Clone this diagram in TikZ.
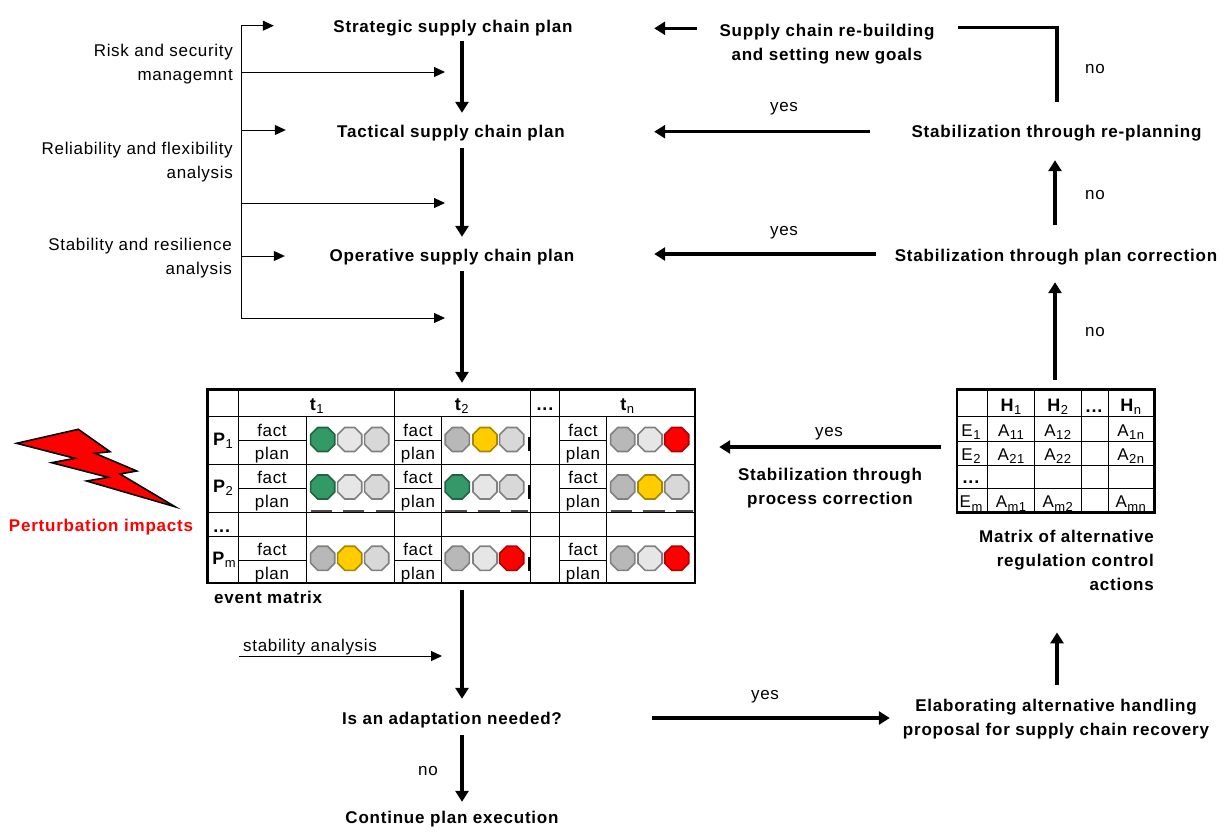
\documentclass[tikz,border=0pt]{standalone}
\usepackage{fontspec}
\setmainfont{Liberation Sans}[LetterSpace=4,BoldFeatures={LetterSpace=4.6}]
\usetikzlibrary{arrows.meta,shapes.geometric}
\definecolor{lg}{HTML}{E6E6E6}
\definecolor{mg}{HTML}{D8D8D8}
\definecolor{dg}{HTML}{B8B8B8}
\definecolor{gn}{HTML}{339966}
\definecolor{ye}{HTML}{FFCC00}
\definecolor{re}{HTML}{FF0000}
\tikzset{
  bold/.style={font=\fontsize{17}{24}\selectfont\bfseries,align=center,inner sep=1pt,minimum height=24pt},
  thin text/.style={font=\fontsize{17}{24}\selectfont,inner sep=1pt},
  cell/.style={font=\fontsize{17}{17}\selectfont,inner sep=0pt,anchor=base},
  cellb/.style={font=\fontsize{18}{18}\selectfont\bfseries,inner sep=0pt,anchor=base},
  thick arrow/.style={line width=3.4pt,-{Triangle[length=11pt,width=13pt]}},
  thick plain/.style={line width=3.4pt},
  thin arrow/.style={line width=1pt,-{Triangle[length=11pt,width=10pt]}},
  grid line/.style={line width=1pt},
  frame box/.style={draw,line width=2.4pt,inner sep=0pt},
  oct/.style={regular polygon,regular polygon sides=8,minimum size=26pt,inner sep=0pt,line width=1.6pt},
  ogn/.style={oct,fill=gn,draw=gn!65!black},
  oye/.style={oct,fill=ye,draw=ye!65!black},
  ore/.style={oct,fill=re,draw=re!70!black},
  olg/.style={oct,fill=lg,draw=black!50},
  omg/.style={oct,fill=mg,draw=black!50},
  odg/.style={oct,fill=dg,draw=black!50},
}
\newcommand{\subs}[1]{{\kern0.5pt\raisebox{-3.5pt}{\fontsize{13}{13}\mdseries\selectfont #1}}}
\begin{document}
\begin{tikzpicture}[x=1pt,y=-1pt]
\useasboundingbox (0,0) rectangle (1225,835);
% text nodes
\node[bold,minimum width=260pt] (strategic) at (453,28) {Strategic supply chain plan};
\node[bold,minimum width=250pt] (tactical) at (451,133) {Tactical supply chain plan};
\node[bold,minimum width=260pt] (operative) at (452,257) {Operative supply chain plan};
\node[bold,minimum width=240pt,minimum height=52pt] (rebuild) at (827,44) {Supply chain re-building\\and setting new goals};
\node[bold,minimum width=310pt] (replan) at (1056.5,133) {Stabilization through re-planning};
\node[bold,minimum width=340pt] (correction) at (1056,257) {Stabilization through plan correction};
\node[bold] (process) at (830,488) {Stabilization through\\process correction};
\node[bold,minimum width=240pt] (adapt) at (452,720) {Is an adaptation needed?};
\node[bold] (continue) at (452,819) {Continue plan execution};
\node[bold,minimum width=320pt,minimum height=52pt] (elaborate) at (1056,719) {Elaborating alternative handling\\proposal for supply chain recovery};
\node[bold,align=right,anchor=north east,minimum height=76pt] (matrixcap) at (1155,522) {Matrix of alternative\\regulation control\\actions};
\node[bold,anchor=west] (eventcap) at (213,597) {event matrix};
\node[bold,text=re] (perturb) at (101,527) {Perturbation impacts};
\node[thin text,align=right,anchor=east] (risk) at (234,64) {Risk and security\\managemnt};
\node[thin text,align=right,anchor=east] (reliab) at (234,162) {Reliability and flexibility\\analysis};
\node[thin text,align=right,anchor=east] (stab) at (233,258) {Stability and resilience\\analysis};
\node[thin text,anchor=west] (stabana) at (242,647) {stability analysis};
\node[thin text] (yes1) at (784,109) {yes};
\node[thin text] (yes2) at (784,233) {yes};
\node[thin text] (yes3) at (829,434) {yes};
\node[thin text] (yes4) at (765,697) {yes};
\node[thin text] (no1) at (1095,69) {no};
\node[thin text] (no2) at (1095,195) {no};
\node[thin text] (no3) at (1095,332) {no};
\node[thin text] (no4) at (428,771) {no};
% lightning
\filldraw[fill=re,draw=black,line width=1.6pt,line join=miter] (16.7,443.3)--(78.3,429.3)--(110,451.7)--(95,453.3)--(136.7,471)--(120,474)--(175,506.7)--(86.7,481)--(108.3,477.3)--(51.7,462.7)--(75,458.3)--cycle;
% event matrix grid
\draw[grid line] (238,389.5)--(238,583) (394,389.5)--(394,583) (530,389.5)--(530,583) (559,389.5)--(559,583);
\draw[grid line] (306,416.7)--(306,583) (441.5,416.7)--(441.5,583) (606,416.7)--(606,583);
\draw[grid line] (207.5,416.7)--(695,416.7) (207.5,464)--(695,464) (207.5,536.5)--(695,536.5);
\draw[grid line] (207.5,512)--(695,512);
\foreach \y in {440.7,488,560}{
 \draw[grid line] (238,\y)--(306,\y) (394,\y)--(441.5,\y) (559,\y)--(606,\y);
}
\foreach \xa/\xb in {311/331.7,343/364,376/394,445/467,478/500,511/528,611/632,643/665,676/693}{
 \draw[line width=1.2pt,black!70] (\xa,511)--(\xb,511);
}
\foreach \ya/\yb in {437/451,485/499,557/571}{ \draw[line width=1.6pt] (529,\ya)--(529,\yb); }
\node[frame box,minimum width=487.5pt,minimum height=193.5pt] (event) at (451.25,486.25) {};
% event matrix text
\node[cellb] (t1) at (316.7,410) {t\subs{1}};
\node[cellb] (t2) at (461.7,410) {t\subs{2}};
\node[cellb] (tdots) at (545,410.7) {...};
\node[cellb] (tn) at (627.3,410) {t\subs{n}};
\node[cellb] (p1) at (223,445) {P\subs{1}};
\node[cellb] (p2) at (223,492.3) {P\subs{2}};
\node[cellb] (pdots) at (221.7,532.7) {...};
\node[cellb] (pm) at (224,564.3) {P\subs{m}};
\foreach \x/\xn in {272/a,418/b,583/c}{
 \foreach \yf/\yp/\r in {436/459/1,483.3/507/2,555/579/3}{
  \node[cell] (fact\xn\r) at (\x,\yf) {fact};
  \node[cell] (plan\xn\r) at (\x,\yp) {plan};
 }
}
% lamps
\node[ogn] (l11) at (322.7,439.5) {}; \node[olg] (l12) at (349.7,439.5) {}; \node[omg] (l13) at (376.7,439.5) {};
\node[odg] (l14) at (457.3,439.5) {}; \node[oye] (l15) at (485,439.5) {}; \node[omg] (l16) at (511.7,439.5) {};
\node[odg] (l17) at (622.7,439.5) {}; \node[olg] (l18) at (650,439.5) {}; \node[ore] (l19) at (676.7,439.5) {};
\node[ogn] (l21) at (322.7,487) {}; \node[olg] (l22) at (349.7,487) {}; \node[omg] (l23) at (376.7,487) {};
\node[ogn] (l24) at (457.3,487) {}; \node[olg] (l25) at (485,487) {}; \node[omg] (l26) at (511.7,487) {};
\node[odg] (l27) at (622.7,487) {}; \node[oye] (l28) at (650,487) {}; \node[omg] (l29) at (676.7,487) {};
\node[odg] (l31) at (322.7,558.3) {}; \node[oye] (l32) at (349.7,558.3) {}; \node[omg] (l33) at (376.7,558.3) {};
\node[odg] (l34) at (457.3,558.3) {}; \node[olg] (l35) at (485,558.3) {}; \node[ore] (l36) at (511.7,558.3) {};
\node[odg] (l37) at (622.7,558.3) {}; \node[olg] (l38) at (650,558.3) {}; \node[ore] (l39) at (676.7,558.3) {};
% right matrix
\draw[grid line] (987.7,389.3)--(987.7,512.3) (1034.3,389.3)--(1034.3,512.3) (1081.7,389.3)--(1081.7,512.3) (1108.3,389.3)--(1108.3,512.3);
\draw[grid line] (956.7,416.7)--(1154.3,416.7) (956.7,441)--(1154.3,441) (956.7,465)--(1154.3,465) (956.7,488.3)--(1154.3,488.3);
\node[frame box,minimum width=197.6pt,minimum height=123pt] (actions) at (1055.5,450.8) {};
\node[cellb] (h1) at (1011,411) {H\subs{1}};
\node[cellb] (h2) at (1057.7,411) {H\subs{2}};
\node[cellb] (hdots) at (1094,412) {...};
\node[cellb] (hn) at (1130.7,411) {H\subs{n}};
\node[cell] (e1) at (971,436) {E\subs{1}};
\node[cell] (e2) at (971,460) {E\subs{2}};
\node[cellb] (edots) at (971,483) {...};
\node[cell] (em) at (971,507.7) {E\subs{m}};
\node[cell] (a11) at (1011,436) {A\subs{11}};
\node[cell] (a12) at (1057.7,436) {A\subs{12}};
\node[cell] (a1n) at (1130.7,436) {A\subs{1n}};
\node[cell] (a21) at (1011,460) {A\subs{21}};
\node[cell] (a22) at (1057.7,460) {A\subs{22}};
\node[cell] (a2n) at (1130.7,460) {A\subs{2n}};
\node[cell] (am1) at (1011,507.7) {A\subs{m1}};
\node[cell] (am2) at (1057.7,507.7) {A\subs{m2}};
\node[cell] (amn) at (1130.7,507.7) {A\subs{mn}};
% guide coordinates and free ends
\coordinate (gx462) at (462,0);
\coordinate (gx1055) at (1055,0);
\coordinate (gx1057) at (1057,0);
\coordinate (gy28) at (0,28.3);
\coordinate (gy131) at (0,131.7);
\coordinate (gy254) at (0,254);
\coordinate (gy447) at (0,447);
\coordinate (gy718) at (0,718);
\coordinate (bt) at (241,25.7);
\coordinate (bb) at (241,318);
\coordinate (s2) at (241,72); \coordinate (e2a) at (445,72);
\coordinate (s3) at (241,130);
\coordinate (s4) at (241,203); \coordinate (e4a) at (445,203);
\coordinate (s5) at (241,256);
\coordinate (e6a) at (445,318);
\coordinate (s7) at (239,656); \coordinate (e7a) at (442,656);
\coordinate (corner) at (1057,27.5);
% bracket and thin arrows
\draw[line width=1pt] (bt)--(bb);
\draw[thin arrow,shorten >=49pt] (bt)--(strategic.west |- bt);
\draw[thin arrow] (s2)--(e2a);
\draw[thin arrow,shorten >=40pt] (s3)--(tactical.west |- s3);
\draw[thin arrow] (s4)--(e4a);
\draw[thin arrow,shorten >=37pt] (s5)--(operative.west |- s5);
\draw[thin arrow] (bb)--(e6a);
\draw[thin arrow] (s7)--(e7a);
% thick connectors
\draw[thick arrow,shorten <=1pt,shorten >=8pt] (strategic.south -| gx462)--(tactical.north -| gx462);
\draw[thick arrow,shorten <=3pt,shorten >=8pt] (tactical.south -| gx462)--(operative.north -| gx462);
\draw[thick arrow,shorten <=2pt,shorten >=5.5pt] (operative.south -| gx462)--(event.north -| gx462);
\draw[thick arrow,shorten <=6pt,shorten >=9pt] (event.south -| gx462)--(adapt.north -| gx462);
\draw[thick arrow,shorten <=3pt,shorten >=5pt] (adapt.south -| gx462)--(continue.north -| gx462);
\draw[thick arrow,shorten <=10pt,shorten >=71pt] (rebuild.west |- gy28)--(strategic.east |- gy28);
\draw[thick plain,shorten <=19pt,shorten >=11pt] (replan.north -| gx1057)--(corner)--(rebuild.east |- corner);
\draw[thick arrow,shorten <=31.5pt,shorten >=78pt] (replan.west |- gy131)--(tactical.east |- gy131);
\draw[thick arrow,shorten <=10pt,shorten >=72pt] (correction.west |- gy254)--(operative.east |- gy254);
\draw[thick arrow,shorten <=20pt,shorten >=15pt] (correction.north -| gx1055)--(replan.south -| gx1055);
\draw[thick arrow,shorten <=8.3pt,shorten >=13pt] (actions.north -| gx1055)--(correction.south -| gx1055);
\draw[thick arrow,shorten <=8pt,shorten >=34pt] (elaborate.north -| gx1057)--(matrixcap.south -| gx1057);
\draw[thick arrow,shorten <=14.7pt,shorten >=23pt] (actions.west |- gy447)--(event.east |- gy447);
\draw[thick arrow,shorten <=80pt,shorten >=6pt] (adapt.east |- gy718)--(elaborate.west |- gy718);
\end{tikzpicture}
\end{document}
